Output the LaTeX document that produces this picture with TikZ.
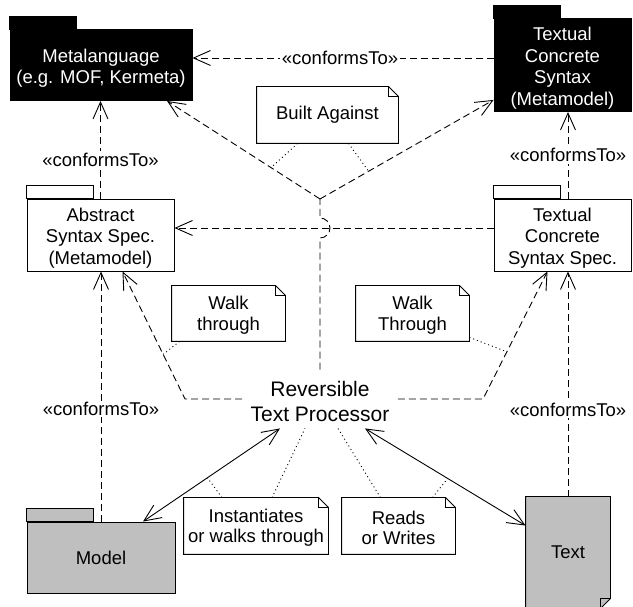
\documentclass[tikz,border=0pt]{standalone}
\usepackage{fontspec}
\setmainfont{Liberation Sans}
\usepackage{tikz}
\usetikzlibrary{arrows.meta}
\newcommand{\pkgstrut}{\rule{0pt}{19.5pt}}
\newcommand{\notestrut}{\rule{0pt}{17pt}}
\newcommand{\procstrut}{\rule{0pt}{20.5pt}}
\tikzstyle{pkgdark} =
[rectangle, inner sep = 0pt, text centered, align = center, draw=black,
fill=black, text=white, font=\fontsize{18.5}{21.5}\selectfont]
\tikzstyle{pkglight} =
[rectangle, inner sep = 0pt, text centered, align = center, draw=black,
fill=white, font=\fontsize{18.5}{21.5}\selectfont]
\tikzstyle{pkggray} =
[rectangle, inner sep = 0pt, text centered, align = center, draw=black,
fill=black!25, font=\fontsize{18.5}{21.5}\selectfont]
\tikzstyle{note} =
[rectangle, inner sep = 0pt, minimum width = 113pt, minimum height = 56pt,
text centered, align = center, font=\fontsize{18.5}{20.5}\selectfont]
\tikzstyle{proc} =
[rectangle, inner sep = 0pt, minimum width = 155pt, minimum height = 58pt,
text centered, align = center, font=\fontsize{21}{24.5}\selectfont]
\tikzstyle{stereo} =
[fill=white, inner sep = 1.5pt, font=\fontsize{18.5}{21}\selectfont]
\tikzstyle{dashline} = [draw, dash pattern=on 7pt off 4pt]
\tikzstyle{line} = [dashline, -{Straight Barb[length=17pt, width=15pt]}]
\tikzstyle{usage} =
[draw, {Straight Barb[length=17pt, width=15pt]}-{Straight Barb[length=17pt, width=15pt]}]
\tikzstyle{noteline} = [draw, dash pattern=on 1pt off 3pt]

\begin{document}
\begin{tikzpicture}[x=1pt, y=1pt, line width=0.9pt, node distance = 462pt]
  \path [use as bounding box, clip] (0,0) rectangle (633,607);
  % packages
  \node [pkgdark, minimum width = 182pt, minimum height = 71pt] (meta) at (101,542)
   {\pkgstrut Metalanguage\\(e.g. MOF, Kermeta)};
  \node [pkgdark, minimum width = 137pt, minimum height = 93pt] (tcsmeta) at (562.5,542)
   {\pkgstrut Textual\\Concrete\\Syntax\\(Metamodel)};
  \node [pkglight, minimum width = 147pt, minimum height = 72pt] (abs) at (100.5,372)
   {\pkgstrut Abstract\\Syntax Spec.\\(Metamodel)};
  \node [pkglight, right of=abs, minimum width = 137pt, minimum height = 72pt] (tcsspec)
   {\pkgstrut Textual\\Concrete\\Syntax Spec.};
  \node [pkggray, minimum width = 148pt, minimum height = 71pt] (model) at (101,49.5)
   {Model};
  \node [pkggray, draw=none, minimum width = 84pt, minimum height = 111pt] (txt) at (568,54.5)
   {Text};
  \foreach \n/\c in {meta/black, tcsmeta/black, abs/white, tcsspec/white, model/black!25}
    \draw [fill=\c] (\n.north west) rectangle ([xshift=67pt, yshift=13pt]\n.north west);
  \fill [white] ([yshift=10pt]txt.south east) -- (txt.south east)
   -- ([xshift=-10pt]txt.south east) -- cycle;
  \draw (txt.north west) -- (txt.north east) -- ([yshift=10pt]txt.south east)
   -- ([xshift=-10pt]txt.south east) -- (txt.south west) -- cycle;
  \draw ([yshift=10pt]txt.south east) -| ([xshift=-10pt]txt.south east);
  %
  % notes and processor
  \node [note, minimum width = 141pt] (built) at (327.5,492) {Built Against};
  \node [note, minimum height = 55pt] (walkl) at (228.5,293.5) {\notestrut Walk\\through};
  \node [note, minimum height = 55pt, right of=walkl, node distance = 184pt] (walkr)
   {\notestrut Walk\\Through};
  \node [note, minimum width = 144pt] (inst) at (256,81)
   {\notestrut Instantiates\\or walks through};
  \node [note, right of=inst, node distance = 142.5pt] (rw) {\notestrut Reads\\or Writes};
  \foreach \n in {built, walkl, walkr, inst, rw} {
    \draw (\n.south west) -- (\n.south east) -- ([yshift=-10pt]\n.north east)
     -- ([xshift=-10pt]\n.north east) -- (\n.north west) -- cycle;
    \draw ([xshift=-10pt]\n.north east) |- ([yshift=-10pt]\n.north east);
  }
  \node [proc] (rtp) at (320,208) {\procstrut Reversible\\Text Processor};
  \coordinate (fork) at (320,408);
  \coordinate (hop) at (320,379);
  \coordinate (lbend) at (185,208);
  \coordinate (rbend) at (483,208);
  %
  % conformsTo edges
  \path [line] ([yshift=7pt]tcsmeta.west) -- node [stereo, pos=0.51] {«conformsTo»}
   ([yshift=7pt]tcsmeta.west -| meta.east);
  \path [line] (abs.north) -- node [stereo, pos=0.4] {«conformsTo»}
   (abs.north |- meta.south);
  \path [line] (tcsspec.north -| txt.north) -- node [stereo] {«conformsTo»}
   (tcsmeta.south -| txt.north);
  \path [line] (model.north) -- node [stereo, pos=0.45] {«conformsTo»}
   (model.north |- abs.south);
  \path [line] (txt.north) -- node [stereo, pos=0.385] {«conformsTo»}
   (txt.north |- tcsspec.south);
  \path [line] ([yshift=7pt]tcsspec.west) -- ([yshift=7pt]tcsspec.west -| abs.east);
  %
  % processor edges
  \path [dashline] (rtp.north) -- ([yshift=-10pt]hop)
   arc [start angle=-90, end angle=90, radius=10pt] -- (fork);
  \path [line] (fork) -- coordinate [pos=0.32] (ba1) ([xshift=66pt]meta.south);
  \path [line] (fork) -- coordinate [pos=0.28] (ba2) ([yshift=12pt]tcsmeta.south west);
  \path [line] (rtp.west) -- (lbend) -- coordinate [pos=0.35] (wl)
   ([xshift=22pt]abs.south);
  \path [line] (rtp.east) -- (rbend) -- coordinate [pos=0.37] (wr)
   ([xshift=-15pt]tcsspec.south);
  \path [usage] ([xshift=-40pt]rtp.south) -- coordinate [pos=0.53] (in1)
   ([xshift=42pt]model.north);
  \path [usage] ([xshift=45pt]rtp.south) -- coordinate [pos=0.515] (rw1)
   ([yshift=-29pt]txt.north west);
  %
  % note anchors
  \path [noteline] ([xshift=-30pt]built.south) -- (ba1);
  \path [noteline] ([xshift=21pt]built.south) -- (ba2);
  \path [noteline] ([xshift=8pt]walkl.south west) -- (wl);
  \path [noteline] ([yshift=4pt]walkr.south east) -- (wr);
  \path [noteline] ([xshift=-34pt]inst.north) -- (in1);
  \path [noteline] ([xshift=16pt]inst.north) -- ([xshift=-15pt]rtp.south);
  \path [noteline] ([xshift=-18pt]rw.north) -- ([xshift=18pt]rtp.south);
  \path [noteline] ([xshift=34pt]rw.north) -- (rw1);
\end{tikzpicture}
\end{document}
